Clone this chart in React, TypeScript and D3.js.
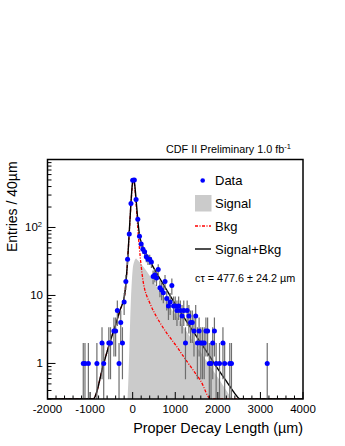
import React from "react";
import * as d3 from "d3";

// data points (bin centre in um, entries per 40um)
const binCenters = [
  -1160, -1120, -1040, -840, -720, -680, -560, -520, -440, -400, -360, -320,
  -280, -240, -200, -160, -120, -80, -40, 0, 40, 80, 120, 160, 200, 240, 280,
  320, 360, 400, 440, 480, 520, 560, 600, 640, 680, 720, 760, 800, 840, 880,
  920, 960, 1000, 1040, 1080, 1120, 1160, 1200, 1240, 1280, 1320, 1360, 1400,
  1440, 1480, 1520, 1560, 1600, 1640, 1680, 1720, 1760, 1800, 1840, 1880, 1920,
  1960, 2040, 2120, 2160, 2280, 2320, 3160,
];
const counts = [
  1, 1, 1, 1, 2, 1, 2, 2, 3, 3, 6, 1, 4, 2, 8, 16, 34, 80, 225, 497, 500, 259,
  132, 74, 57, 48, 44, 37, 34, 34, 31, 19, 20, 18, 24, 13, 12, 11, 16, 9, 7, 8,
  14, 7, 7, 6, 7, 6, 5, 6, 2, 6, 5, 4, 4, 3, 5, 2, 3, 2, 2, 2, 3, 3, 1, 1, 2, 3,
  1, 1, 2, 1, 1, 1, 1,
];

// fit curves
const totalX = [-2000, -930, -680, -540, -400, -300, -190, -160, -120, -80, -40, 0, 20, 40, 80, 120, 160, 200, 260, 300, 400, 500, 600, 800, 1000, 1200, 1400, 1600, 1800, 2000, 2200, 2400, 2524, 4000];
const totalY = [0.3, 0.3, 1, 2, 3.7, 6, 10, 15, 32, 85, 230, 480, 525, 470, 260, 130, 78, 60, 48, 43, 33, 25, 19.5, 12, 7.5, 4.8, 3.1, 2.0, 1.3, 0.83, 0.55, 0.36, 0.3, 0.3];

const bkgX = [-2000, -930, -680, -540, -400, -300, -190, -160, -120, -80, -40, 0, 20, 40, 80, 120, 160, 200, 240, 280, 320, 400, 500, 650, 800, 1000, 1200, 1400, 1600, 1837, 4000];
const bkgY = [0.3, 0.3, 1, 2, 3.7, 6, 10, 15, 32, 83, 220, 455, 495, 440, 225, 97, 48, 27, 17, 12.5, 10.3, 7.8, 5.7, 3.9, 2.8, 1.9, 1.25, 0.83, 0.55, 0.3, 0.3];

const signalX = [-120, -100, -80, -60, -40, -20, 0, 40, 80, 120, 200, 400, 600, 800, 1000, 1200, 1400, 1600, 1800, 2000, 2200, 2330];
const signalY = [0.3, 0.6, 1.5, 4, 9, 16, 24, 32, 35, 33, 29, 19.5, 12.5, 8, 5.2, 3.4, 2.2, 1.45, 0.95, 0.62, 0.4, 0.3];

const xTicks = [-2000, -1000, 0, 1000, 2000, 3000, 4000];

const font = "'Liberation Sans', Arial, Helvetica, sans-serif";

export default function App() {
  const left = 47.5;
  const right = 303;
  const top = 159.5;
  const bottom = 399;

  const x = d3.scaleLinear().domain([-2000, 4000]).range([left, right]);
  const y = d3.scaleLog().domain([0.3, 1000]).range([bottom, top]);
  const yc = (v: number) => y(Math.max(0.3, Math.min(1000, v)));

  const line = d3
    .line<[number, number]>()
    .x((d) => x(d[0]))
    .y((d) => yc(d[1]))
    .curve(d3.curveMonotoneX);

  const area = d3
    .area<[number, number]>()
    .x((d) => x(d[0]))
    .y0(bottom)
    .y1((d) => yc(d[1]))
    .curve(d3.curveMonotoneX);

  const zip = (a: number[], b: number[]) =>
    a.map((v, i) => [v, b[i]] as [number, number]);

  // minor ticks
  const xMinor = d3.range(-2000, 4001, 200).filter((v) => v % 1000 !== 0);
  const yMajor = [1, 10, 100];
  const yMinor: number[] = [];
  [0.1, 1, 10, 100].forEach((dec) => {
    for (let k = 2; k <= 9; k++) {
      const v = dec * k;
      if (v >= 0.3 && v <= 1000) yMinor.push(v);
    }
  });

  return (
    <svg
      width={345}
      height={446}
      style={{ position: "absolute", left: 0, top: 0, background: "#fff" }}
    >
      <defs>
        <clipPath id="plot">
          <rect x={left} y={top} width={right - left} height={bottom - top} />
        </clipPath>
      </defs>

      <text x={166} y={153} fontFamily={font} fontSize={10.8} fill="#000">
        CDF II Preliminary 1.0 fb
        <tspan dy={-4} fontSize={7.5}>-1</tspan>
      </text>

      <g clipPath="url(#plot)">
        <path d={area(zip(signalX, signalY)) || ""} fill="#cbcbcb" />
        <path
          d={line(zip(bkgX, bkgY)) || ""}
          fill="none"
          stroke="#ff0000"
          strokeWidth={1.3}
          strokeDasharray="3,1.5,1,1.5"
        />
        <path
          d={line(zip(totalX, totalY)) || ""}
          fill="none"
          stroke="#000"
          strokeWidth={1.4}
        />
        {binCenters.map((c, i) => {
          const n = counts[i];
          const e = Math.sqrt(n);
          return (
            <line
              key={"e" + i}
              x1={x(c)}
              x2={x(c)}
              y1={yc(n + e)}
              y2={n - e > 0.3 ? yc(n - e) : bottom}
              stroke="#6e6e6e"
              strokeWidth={1.2}
            />
          );
        })}
        {binCenters.map((c, i) => (
          <circle key={"p" + i} cx={x(c)} cy={yc(counts[i])} r={2.5} fill="#0000ff" />
        ))}
      </g>

      {/* frame */}
      <rect
        x={left}
        y={top}
        width={right - left}
        height={bottom - top}
        fill="none"
        stroke="#000"
        strokeWidth={1.5}
      />

      {/* x axis ticks */}
      {xTicks.map((t) => (
        <g key={"xt" + t}>
          <line x1={x(t)} x2={x(t)} y1={bottom} y2={bottom - 7} stroke="#000" />
          <text
            x={x(t)}
            y={413}
            textAnchor="middle"
            fontFamily={font}
            fontSize={11.5}
          >
            {t}
          </text>
        </g>
      ))}
      {xMinor.map((t) => (
        <line key={"xm" + t} x1={x(t)} x2={x(t)} y1={bottom} y2={bottom - 3.5} stroke="#000" />
      ))}

      {/* y axis ticks */}
      {yMajor.map((t) => (
        <line key={"ym" + t} x1={left} x2={left + 8} y1={y(t)} y2={y(t)} stroke="#000" />
      ))}
      {yMinor.map((t) => (
        <line key={"yn" + t} x1={left} x2={left + 4} y1={y(t)} y2={y(t)} stroke="#000" />
      ))}
      <text x={43} y={y(1) + 4} textAnchor="end" fontFamily={font} fontSize={11.5}>1</text>
      <text x={43} y={y(10) + 4} textAnchor="end" fontFamily={font} fontSize={11.5}>10</text>
      <text x={42} y={y(100) + 4} textAnchor="end" fontFamily={font} fontSize={11.5}>
        10<tspan dy={-4} fontSize={7.5}>2</tspan>
      </text>

      {/* axis titles */}
      <text
        transform="translate(17,252) rotate(-90)"
        fontFamily={font}
        fontSize={14}
      >
        Entries / 40µm
      </text>
      <text x={303} y={433} textAnchor="end" fontFamily={font} fontSize={14.4}>
        Proper Decay Length (µm)
      </text>

      {/* legend */}
      <circle cx={202.7} cy={180.5} r={2.3} fill="#0000ff" />
      <text x={215} y={185} fontFamily={font} fontSize={13}>Data</text>
      <rect x={195} y={195} width={16.5} height={16.5} fill="#cbcbcb" />
      <text x={215} y={208} fontFamily={font} fontSize={13}>Signal</text>
      <line
        x1={195}
        x2={211}
        y1={226}
        y2={226}
        stroke="#ff0000"
        strokeWidth={1.3}
        strokeDasharray="3,1.5,1,1.5"
      />
      <text x={215} y={230.5} fontFamily={font} fontSize={13}>Bkg</text>
      <line x1={195} x2={211} y1={249} y2={249} stroke="#000" strokeWidth={1.4} />
      <text x={215} y={253.5} fontFamily={font} fontSize={13}>Signal+Bkg</text>
      <text x={195} y={282} fontFamily={font} fontSize={10.8}>
        cτ = 477.6 ± 24.2 µm
      </text>
    </svg>
  );
}
